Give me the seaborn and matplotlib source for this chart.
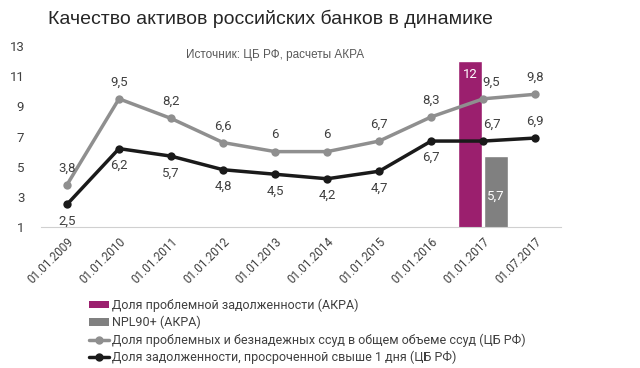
import numpy as np
import pandas as pd
import seaborn as sns
import matplotlib.pyplot as plt
from matplotlib.patches import Patch
from matplotlib.lines import Line2D

# ──────────────────────────────
# Data
# ──────────────────────────────
dates = ["01.01.2009", "01.01.2010", "01.01.2011", "01.01.2012", "01.01.2013",
         "01.01.2014", "01.01.2015", "01.01.2016", "01.01.2017", "01.07.2017"]
cb_problem = [3.8, 9.5, 8.2, 6.6, 6.0, 6.0, 6.7, 8.3, 9.5, 9.8]
cb_overdue = [2.5, 6.2, 5.7, 4.8, 4.5, 4.2, 4.7, 6.7, 6.7, 6.9]
overdue_label_above = [False, False, False, False, False, False, False, False, True, True]

bar_date = "01.01.2017"
bar_series = ["Доля проблемной задолженности (АКРА)", "NPL90+ (АКРА)"]
bar_values = [12.0, 5.7]

line_names = ["Доля проблемных и безнадежных ссуд в общем объеме ссуд (ЦБ РФ)",
              "Доля задолженности, просроченной свыше 1 дня (ЦБ РФ)"]

MAGENTA = "#9b1f6e"
BAR_GREY = "#808080"
LINE_GREY = "#8f8f8f"
LINE_BLACK = "#1a1a1a"
TEXT = "#404040"

def fmt(v):
    s = f"{v:g}"
    return s.replace(".", ",")

# ──────────────────────────────
# Figure
# ──────────────────────────────
sns.set_style("white")
plt.rcParams["font.family"] = ["Roboto", "DejaVu Sans"]

fig = plt.figure(figsize=(6.4, 3.68), dpi=100)
ax = fig.add_axes([0.064, 0.383, 0.813, 0.492])

bars_df = pd.DataFrame({"date": [bar_date] * 2, "series": bar_series, "value": bar_values})
sns.barplot(data=bars_df, x="date", y="value", hue="series", order=dates,
            palette=[MAGENTA, BAR_GREY], width=1.0, gap=0.08, dodge=True,
            legend=False, ax=ax, saturation=1, zorder=2)

x = np.arange(len(dates))
lines_df = pd.DataFrame({"x": x, "problem": cb_problem, "overdue": cb_overdue})
sns.lineplot(data=lines_df, x="x", y="problem", color=LINE_GREY, lw=2.5,
             marker="o", markersize=6, markeredgewidth=0, ax=ax, zorder=3)
sns.lineplot(data=lines_df, x="x", y="overdue", color=LINE_BLACK, lw=2.5,
             marker="o", markersize=6, markeredgewidth=0, ax=ax, zorder=3)

# point labels (nudge right next to the bars)
bi = dates.index(bar_date)
for i, v in enumerate(cb_problem):
    dx = 6 if i == bi else 0
    ax.annotate(fmt(v), (i, v), xytext=(dx, 12), textcoords="offset points",
                ha="center", va="center", fontsize=9.5, color=TEXT, zorder=4)
for i, v in enumerate(cb_overdue):
    dy = 12 if overdue_label_above[i] else -12
    dx = 6 if i == bi else 0
    ax.annotate(fmt(v), (i, v), xytext=(dx, dy), textcoords="offset points",
                ha="center", va="center", fontsize=9.5, color=TEXT, zorder=4)

# bar labels
ax.annotate(fmt(bar_values[0]), (bi - 0.25, bar_values[0]), xytext=(0, -10),
            textcoords="offset points", ha="center", va="center",
            fontsize=9.5, color="white", zorder=4)
ax.annotate(fmt(bar_values[1]), (bi + 0.25, 1), xytext=(0, 22),
            textcoords="offset points", ha="center", va="center",
            fontsize=9.5, color="white", zorder=4)

# axes
ax.set_xlim(-0.5, len(dates) - 0.5)
ax.set_ylim(1, 13)
ax.set_yticks(np.arange(1, 14, 2))
ax.set_yticklabels([str(t) for t in range(1, 14, 2)], fontsize=9.5, color=TEXT)
ax.set_xticks(x)
ax.set_xticklabels(dates, rotation=45, ha="right", rotation_mode="anchor",
                   fontsize=8.5, color=TEXT)
ax.set_xticks(np.arange(-0.5, len(dates)), minor=True)
ax.tick_params(axis="x", which="major", length=0, pad=6)
ax.tick_params(axis="x", which="minor", length=4, color="#d0d0d0", width=1)
ax.tick_params(axis="y", length=0, pad=12)
ax.set_xlabel("")
ax.set_ylabel("")
for s in ["top", "right", "left"]:
    ax.spines[s].set_visible(False)
ax.spines["bottom"].set_color("#d0d0d0")
ax.grid(False)

# titles
fig.text(0.075, 0.95, "Качество активов российских банков в динамике",
         fontsize=14, color="#262626", ha="left", va="center",
         family=["Liberation Sans", "DejaVu Sans"])
fig.text(0.43, 0.85, "Источник: ЦБ РФ, расчеты АКРА", fontsize=8.5,
         color="#595959", ha="center", va="center",
         family=["Liberation Sans", "DejaVu Sans"])

# legend
handles = [
    Patch(facecolor=MAGENTA, edgecolor="none"),
    Patch(facecolor=BAR_GREY, edgecolor="none"),
    Line2D([], [], color=LINE_GREY, lw=2.5, marker="o", markersize=5),
    Line2D([], [], color=LINE_BLACK, lw=2.5, marker="o", markersize=5),
]
fig.legend(handles, bar_series + line_names, loc="upper left",
           bbox_to_anchor=(0.13, 0.205), frameon=False, fontsize=9,
           handlelength=1.6, handleheight=0.5, handletextpad=0.2,
           labelspacing=0.3, borderpad=0, labelcolor=TEXT)

fig.savefig("out.png", dpi=100)
